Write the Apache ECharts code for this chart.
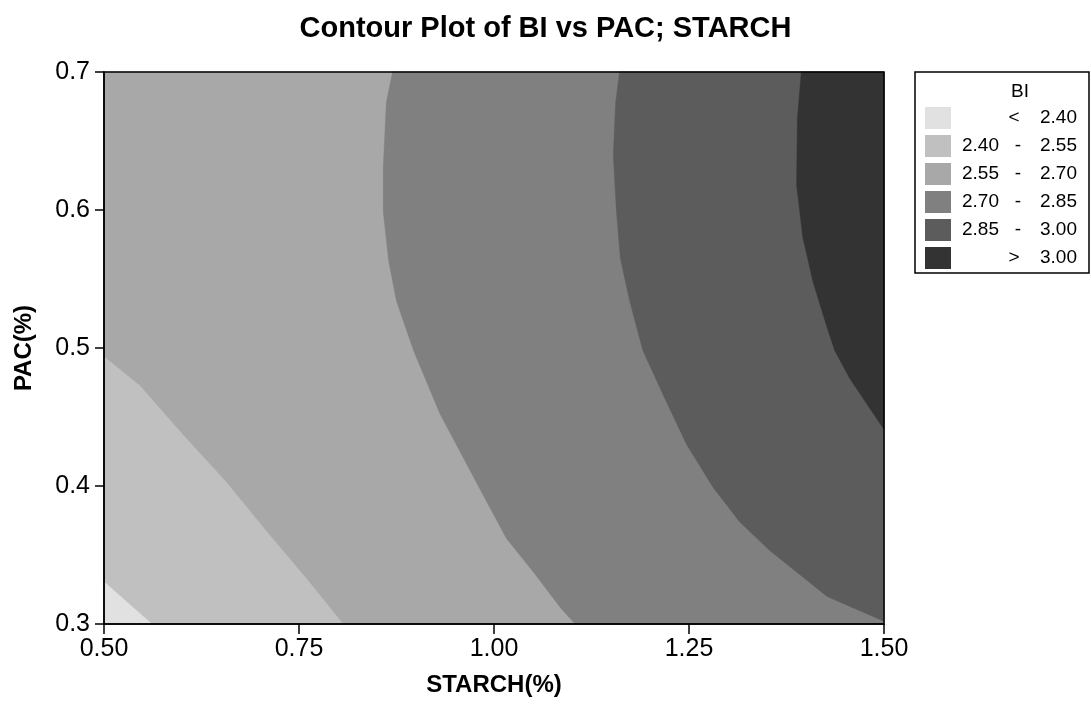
<!DOCTYPE html>
<html>
<head>
<meta charset="utf-8">
<script src="https://cdn.jsdelivr.net/npm/echarts@6/dist/echarts.min.js"></script>
<style>
html,body{margin:0;padding:0;background:#fff;}
#chart{width:1091px;height:704px;}
</style>
</head>
<body>
<div id="chart"></div>
<script>
// ---- data ----
const xTicks = [0.50, 0.75, 1.00, 1.25, 1.50];
const yTicks = [0.3, 0.4, 0.5, 0.6, 0.7];
const levels = [2.40, 2.55, 2.70, 2.85, 3.00];
// contour lines (STARCH, PAC)
const contour240 = [[0.500, 0.331], [0.562, 0.300]];
const contour255 = [[0.500, 0.494], [0.546, 0.473], [0.602, 0.437], [0.657, 0.403], [0.709, 0.367], [0.760, 0.333], [0.807, 0.300]];
const contour270 = [[0.870, 0.700], [0.862, 0.678], [0.858, 0.630], [0.858, 0.599], [0.865, 0.563], [0.875, 0.534], [0.897, 0.498], [0.931, 0.452], [0.995, 0.384], [1.016, 0.362], [1.050, 0.338], [1.085, 0.312], [1.104, 0.300]];
const contour285 = [[1.161, 0.700], [1.156, 0.678], [1.153, 0.640], [1.157, 0.599], [1.162, 0.565], [1.174, 0.534], [1.191, 0.498], [1.217, 0.466], [1.247, 0.430], [1.281, 0.399], [1.315, 0.374], [1.354, 0.353], [1.427, 0.320], [1.500, 0.302]];
const contour300 = [[1.394, 0.700], [1.389, 0.666], [1.388, 0.618], [1.396, 0.580], [1.409, 0.548], [1.427, 0.515], [1.437, 0.498], [1.456, 0.478], [1.500, 0.441]];
const contours = [contour240, contour255, contour270, contour285, contour300];

// ---- styles ----
const palette = ['#e1e1e1', '#c0c0c0', '#a8a8a8', '#808080', '#5c5c5c', '#333333'];
const FONT = 'Liberation Sans, Arial, Helvetica, sans-serif';

const xMin = xTicks[0], xMax = xTicks[xTicks.length - 1];
const yMin = yTicks[0], yMax = yTicks[yTicks.length - 1];

function highSide(curve) {
  const pts = curve.slice();
  const start = curve[0], end = curve[curve.length - 1];
  if (end[1] <= yMin + 1e-9 && end[0] < xMax - 1e-9) pts.push([xMax, yMin]);
  pts.push([xMax, yMax]);
  if (start[0] <= xMin + 1e-9 && start[1] < yMax - 1e-9) pts.push([xMin, yMax]);
  return pts;
}
const regions = [[[xMin, yMin], [xMax, yMin], [xMax, yMax], [xMin, yMax]]]
  .concat(contours.map(highSide));

// legend labels
const legendRows = [];
legendRows.push({lo: '', mid: '<', hi: levels[0].toFixed(2)});
for (let i = 0; i < levels.length - 1; i++) {
  legendRows.push({lo: levels[i].toFixed(2), mid: '-', hi: levels[i + 1].toFixed(2)});
}
legendRows.push({lo: '', mid: '>', hi: levels[levels.length - 1].toFixed(2)});

const legendEls = [];
legendEls.push({type: 'rect', shape: {x: 915, y: 72, width: 174, height: 201},
  style: {fill: '#fff', stroke: '#000', lineWidth: 1.5}, z: 100});
legendEls.push({type: 'text', x: 1020, y: 92, z: 101,
  style: {text: 'BI', font: '19px ' + FONT, fill: '#000', textAlign: 'center', textVerticalAlign: 'middle'}});
legendRows.forEach((r, i) => {
  const cy = 118 + 28 * i;
  legendEls.push({type: 'rect', shape: {x: 925, y: cy - 11, width: 26, height: 22},
    style: {fill: palette[i]}, z: 101});
  if (r.lo) legendEls.push({type: 'text', x: 999, y: cy, z: 101,
    style: {text: r.lo, font: '19px ' + FONT, fill: '#000', textAlign: 'right', textVerticalAlign: 'middle'}});
  legendEls.push({type: 'text', x: r.mid === '-' ? 1018 : 1014, y: cy, z: 101,
    style: {text: r.mid, font: '19px ' + FONT, fill: '#000', textAlign: 'center', textVerticalAlign: 'middle'}});
  legendEls.push({type: 'text', x: 1077, y: cy, z: 101,
    style: {text: r.hi, font: '19px ' + FONT, fill: '#000', textAlign: 'right', textVerticalAlign: 'middle'}});
});

const chart = echarts.init(document.getElementById('chart'), null, {renderer: 'canvas'});
chart.setOption({
  animation: false,
  backgroundColor: '#fff',
  title: {
    text: 'Contour Plot of BI vs PAC; STARCH',
    left: 'center', top: 9,
    textStyle: {fontFamily: FONT, fontSize: 29, fontWeight: 'bold', color: '#000'}
  },
  grid: {left: 104, right: 207, top: 72, bottom: 80, show: true,
    borderColor: '#000', borderWidth: 1.5, backgroundColor: 'transparent', z: 10},
  xAxis: {
    type: 'value', min: xMin, max: xMax, interval: xTicks[1] - xTicks[0],
    name: 'STARCH(%)', nameLocation: 'middle', nameGap: 49,
    nameTextStyle: {fontFamily: FONT, fontSize: 24, fontWeight: 'bold', color: '#000'},
    axisLine: {show: true, lineStyle: {color: '#000', width: 1.5}},
    axisTick: {show: true, length: 10, lineStyle: {color: '#000', width: 1.5}},
    axisLabel: {margin: 13, fontFamily: FONT, fontSize: 25, color: '#000',
      formatter: v => v.toFixed(2)},
    splitLine: {show: false}, z: 20
  },
  yAxis: {
    type: 'value', min: yMin, max: yMax, interval: 0.1,
    name: 'PAC(%)', nameLocation: 'middle', nameGap: 68,
    nameTextStyle: {fontFamily: FONT, fontSize: 24, fontWeight: 'bold', color: '#000'},
    axisLine: {show: true, lineStyle: {color: '#000', width: 1.5}},
    axisTick: {show: true, length: 9, lineStyle: {color: '#000', width: 1.5}},
    axisLabel: {margin: 14, fontFamily: FONT, fontSize: 25, color: '#000',
      formatter: v => v.toFixed(1)},
    splitLine: {show: false}, z: 20
  },
  series: [{
    type: 'custom',
    coordinateSystem: 'cartesian2d',
    silent: true,
    data: regions.map((_, i) => [xMin, yMin, i]),
    encode: {x: 0, y: 1},
    renderItem: function (params, api) {
      const idx = params.dataIndex;
      const pts = regions[idx].map(p => api.coord(p));
      return {type: 'polygon', shape: {points: pts},
        style: {fill: palette[idx], stroke: palette[idx], lineWidth: 0.5}};
    }
  }],
  graphic: legendEls
});
</script>
</body>
</html>
